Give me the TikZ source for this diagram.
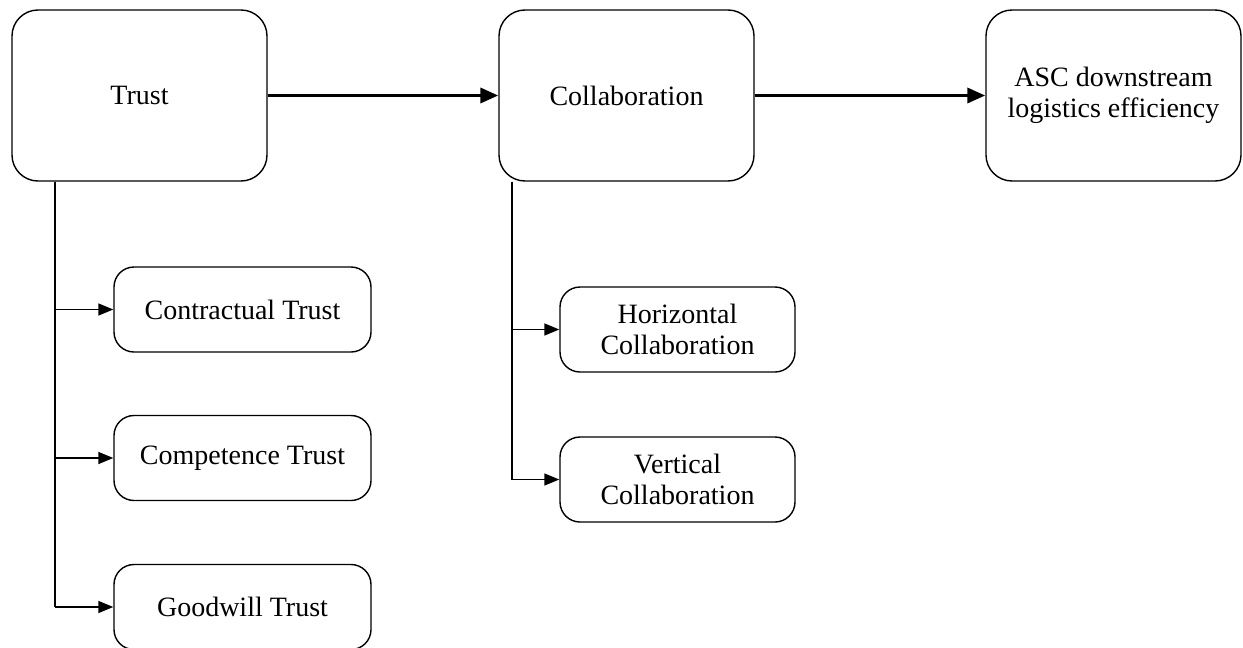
\documentclass[tikz,border=0pt]{standalone}
\usepackage{fontspec}
\setmainfont{Liberation Serif}
\usetikzlibrary{arrows.meta}

\tikzset{
  bigbox/.style={draw,line width=1.4pt,rounded corners=26pt,minimum width=255pt,minimum height=171pt,align=center,inner sep=0pt},
  subbox/.style={draw,line width=1.4pt,rounded corners=20pt,minimum height=85pt,align=center,inner sep=0pt},
  mainarrow/.style={line width=3.5pt,-{Triangle[length=18pt,width=15pt]}},
  branch/.style={line width=1.5pt,-{Triangle[length=15pt,width=12pt]}},
}

\begin{document}
\begin{tikzpicture}[x=1pt,y=-1pt,font=\fontsize{28}{31}\selectfont]
  \useasboundingbox (0,0) rectangle (1243,648);
  % top row
  \node[bigbox] (trust) at (139.5,95.5){Trust};
  \node[bigbox] (collab) at (626.5,95.5){Collaboration};
  \node[bigbox] (asc) at (1113.5,95.5){ASC downstream\\logistics efficiency};
  % trust dimensions
  \node[subbox,minimum width=257pt] (contract) at (242.5,309.5){Contractual Trust};
  \node[subbox,minimum width=257pt] (compet) at (242.5,458){Competence Trust};
  \node[subbox,minimum width=257pt] (goodwill) at (242.5,607){Goodwill Trust};
  % collaboration dimensions
  \node[subbox,minimum width=235pt] (horiz) at (677.5,329.5){Horizontal\\Collaboration};
  \node[subbox,minimum width=235pt] (vert) at (677.5,479.5){Vertical\\Collaboration};

  \draw[mainarrow] (trust) -- (collab);
  \draw[mainarrow] (collab) -- (asc);

  \coordinate (tt) at ([xshift=44pt]trust.south west);
  \coordinate (ct) at ([xshift=14pt]collab.south west);
  \draw[line width=2.2pt] (tt) -- (tt |- goodwill);
  \draw[line width=2.2pt] (ct) -- (ct |- vert);
  \draw[branch] (tt) |- (contract);
  \draw[branch] (tt) |- (compet);
  \draw[branch] (tt) |- (goodwill);
  \draw[branch] (ct) |- (horiz);
  \draw[branch] (ct) |- (vert);
\end{tikzpicture}
\end{document}
